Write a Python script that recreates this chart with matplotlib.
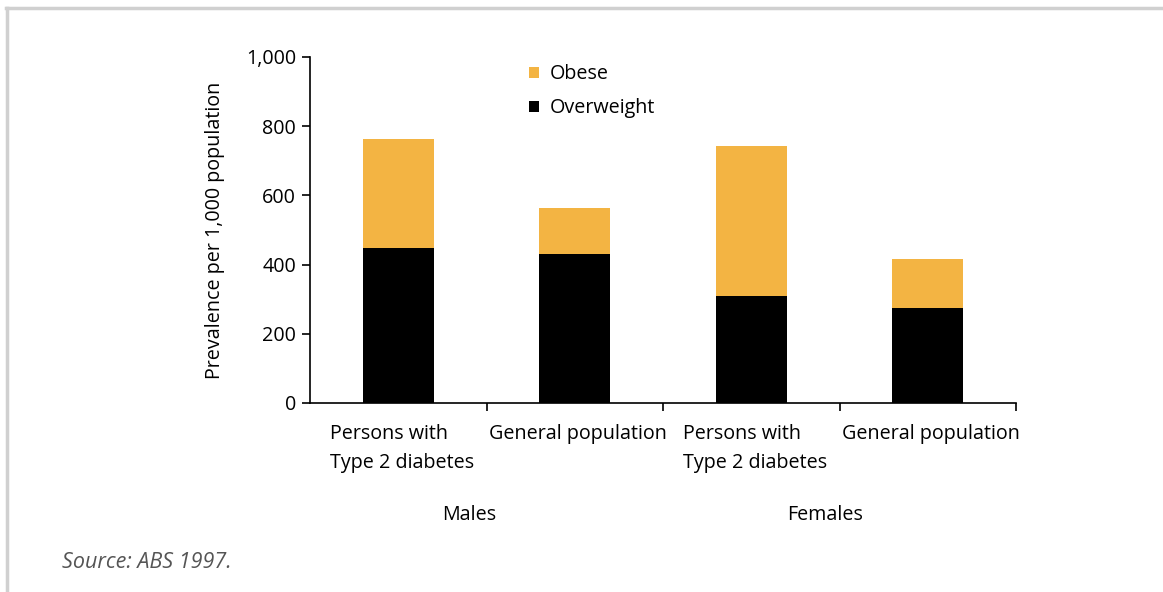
import matplotlib.pyplot as plt
import numpy as np

plt.rcParams['font.family'] = ['Open Sans', 'DejaVu Sans']

# prevalence per 1,000 population
categories = ["Persons with\nType 2 diabetes", "General population",
              "Persons with\nType 2 diabetes", "General population"]
overweight = [448, 431, 309, 275]
obese = [315, 133, 434, 141]
groups = ["Males", "Females"]
yticks = [0, 200, 400, 600, 800, 1000]
ytick_labels = ["0", "200", "400", "600", "800", "1,000"]

orange = "#F3B443"
fs = 14.2

fig = plt.figure(figsize=(11.63, 5.92), dpi=100)
ax = fig.add_axes([310/1163, 1-403/592, 706/1163, 346/592])

x = np.arange(len(categories))
ax.bar(x, overweight, width=0.4, color="black", label="Overweight")
ax.bar(x, obese, width=0.4, bottom=overweight, color=orange, label="Obese")

ax.set_xlim(-0.5, 3.5)
ax.set_ylim(0, 1000)
ax.set_yticks(yticks)
ax.set_yticklabels(ytick_labels, fontsize=fs)
ax.set_xticks([0.5, 1.5, 2.5, 3.5])
ax.set_xticklabels([])
ax.tick_params(axis='x', direction='out', length=6, width=1.2)
ax.tick_params(axis='y', direction='out', length=6, width=1.2, pad=4)
for s in ["top", "right"]:
    ax.spines[s].set_visible(False)
for s in ["left", "bottom"]:
    ax.spines[s].set_linewidth(1.2)

# category labels under the axis
for i, lab in enumerate(categories):
    ax.text(i + 0.02, -60, lab, ha="center", va="top", fontsize=fs,
            multialignment="left", linespacing=1.6)

# group labels
ax.text(0.4, -325, groups[0], ha="center", va="center", fontsize=fs)
ax.text(2.42, -325, groups[1], ha="center", va="center", fontsize=fs)

ax.set_ylabel("Prevalence per 1,000 population", fontsize=fs, labelpad=15)

# legend
handles, labels = ax.get_legend_handles_labels()
ax.legend(handles[::-1], labels[::-1], loc="upper left", bbox_to_anchor=(0.285, 1.03),
          frameon=False, fontsize=fs, handlelength=0.5, handleheight=0.5,
          handletextpad=0.55, labelspacing=0.7)

fig.text(62/1163, 1-562/592, "Source: ABS 1997.", fontsize=15.5, style="italic",
         color="#555555", va="center")

# panel border (top and left)
fig.add_artist(plt.Line2D([6/1163, 1], [1-8/592, 1-8/592], color="#d0d0d0", lw=2.5))
fig.add_artist(plt.Line2D([7/1163, 7/1163], [0, 1-8/592], color="#d0d0d0", lw=2.5))

fig.savefig("out.png", dpi=100)
